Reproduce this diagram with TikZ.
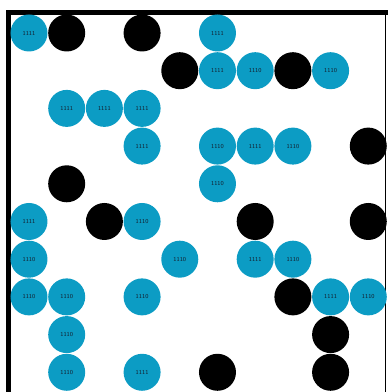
\documentclass[tikz,border=0pt]{standalone}
\usepackage{tikz}
\usetikzlibrary{positioning}
\definecolor{cellblue}{RGB}{12,156,196}
\definecolor{celltext}{RGB}{20,30,45}
\tikzstyle{cell} = [circle, minimum size=37pt, inner sep=0pt, fill=cellblue,
    text=celltext, font=\sffamily\fontsize{6}{7}\selectfont]
\tikzstyle{hole} = [circle, minimum size=37pt, inner sep=0pt, fill=black]
\tikzstyle{frame} = [line width=5pt, line cap=rect]

\begin{document}
\begin{tikzpicture}[x=37.7pt, y=-37.7pt]
  \useasboundingbox (-0.769,-0.875) rectangle (9.576,9.523);
  % frame
  \coordinate (tl) at (-0.544,-0.544);
  \coordinate (bl) at (-0.544,9.6);
  \coordinate (tr) at (9.456,-0.544);
  \coordinate (br) at (9.456,9.6);
  \draw[frame] (bl) -- (tl) -- (tr);
  \draw[line width=1pt] (tr) -- (br);

  % row 0
  \node (a0) [cell] at (0,0) {1111};
  \node (a1) [hole] at (1,0) {};
  \node (a3) [hole] at (3,0) {};
  \node (a5) [cell] at (5,0) {1111};
  % row 1
  \node (b4) [hole] at (4,1) {};
  \node (b5) [cell] at (5,1) {1111};
  \node (b6) [cell] at (6,1) {1110};
  \node (b7) [hole] at (7,1) {};
  \node (b8) [cell] at (8,1) {1110};
  % row 2
  \node (c1) [cell] at (1,2) {1111};
  \node (c2) [cell] at (2,2) {1111};
  \node (c3) [cell] at (3,2) {1111};
  % row 3
  \node (d3) [cell] at (3,3) {1111};
  \node (d5) [cell] at (5,3) {1110};
  \node (d6) [cell] at (6,3) {1111};
  \node (d7) [cell] at (7,3) {1110};
  \node (d9) [hole] at (9,3) {};
  % row 4
  \node (e1) [hole] at (1,4) {};
  \node (e5) [cell] at (5,4) {1110};
  % row 5
  \node (f0) [cell] at (0,5) {1111};
  \node (f2) [hole] at (2,5) {};
  \node (f3) [cell] at (3,5) {1110};
  \node (f6) [hole] at (6,5) {};
  \node (f9) [hole] at (9,5) {};
  % row 6
  \node (g0) [cell] at (0,6) {1110};
  \node (g4) [cell] at (4,6) {1110};
  \node (g6) [cell] at (6,6) {1111};
  \node (g7) [cell] at (7,6) {1110};
  % row 7
  \node (h0) [cell] at (0,7) {1110};
  \node (h1) [cell] at (1,7) {1110};
  \node (h3) [cell] at (3,7) {1110};
  \node (h7) [hole] at (7,7) {};
  \node (h8) [cell] at (8,7) {1111};
  \node (h9) [cell] at (9,7) {1110};
  % row 8
  \node (i1) [cell] at (1,8) {1110};
  \node (i8) [hole] at (8,8) {};
  % row 9
  \node (j1) [cell] at (1,9) {1110};
  \node (j3) [cell] at (3,9) {1111};
  \node (j5) [hole] at (5,9) {};
  \node (j8) [hole] at (8,9) {};
\end{tikzpicture}
\end{document}
